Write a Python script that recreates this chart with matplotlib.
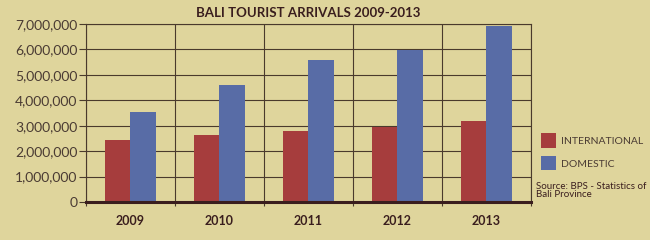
import numpy as np
import matplotlib
matplotlib.use('Agg')
import matplotlib.pyplot as plt
from matplotlib.ticker import FuncFormatter, MultipleLocator

years = ['2009', '2010', '2011', '2012', '2013']
international = [2440000, 2640000, 2800000, 2930000, 3180000]
domestic = [3520000, 4600000, 5590000, 5980000, 6940000]

bg = '#dfd59c'
red = '#a63d3d'
blue = '#586ca6'
grid_col = '#4a3a2c'
text_col = '#4a3b33'
dark = '#3a1e1e'

plt.rcParams['font.family'] = ['Lato', 'DejaVu Sans']

fig = plt.figure(figsize=(6.5, 2.4), dpi=100, facecolor=bg)
ax = fig.add_axes([0.1323, 0.1583, 0.6846, 0.7417], facecolor=bg)

x = np.arange(len(years))
w = 0.29
ax.bar(x - w / 2, international, w, color=red, label='INTERNATIONAL', zorder=3)
ax.bar(x + w / 2, domestic, w, color=blue, label='DOMESTIC', zorder=3)

ax.set_xlim(-0.5, len(years) - 0.5)
ax.set_ylim(0, 7000000)
ax.yaxis.set_major_locator(MultipleLocator(1000000))
ax.yaxis.set_major_formatter(FuncFormatter(lambda v, p: '{:,.0f}'.format(v)))
ax.set_xticks(x)
ax.set_xticklabels(years, fontsize=9, fontweight='bold', color=dark)
ax.set_xticks(np.arange(-0.5, len(years)), minor=True)

ax.grid(axis='y', color=grid_col, linewidth=0.8, zorder=1)
ax.grid(axis='x', which='minor', color=grid_col, linewidth=0.8, zorder=1)
ax.tick_params(axis='x', which='major', length=0, pad=9)
ax.tick_params(axis='x', which='minor', length=3, color=grid_col, width=0.8)
ax.tick_params(axis='y', length=5, color=grid_col, width=0.8, labelsize=10,
               labelcolor=text_col, pad=1)

for s in ['left', 'right', 'top']:
    ax.spines[s].set_color(grid_col)
    ax.spines[s].set_linewidth(0.8)
ax.spines['bottom'].set_color(dark)
ax.spines['bottom'].set_linewidth(2.2)
ax.spines['bottom'].set_zorder(4)

fig.text(0.474, 0.945, 'BALI TOURIST ARRIVALS 2009-2013', ha='center', va='center',
         fontsize=9.5, fontweight='bold', color=dark)

leg = ax.legend(loc='upper left', bbox_to_anchor=(0.833, 0.445),
                bbox_transform=fig.transFigure, frameon=False, fontsize=7.5,
                handlelength=1.4, handleheight=1.75, labelspacing=0.8,
                handletextpad=0.5, borderaxespad=0, borderpad=0)
for t in leg.get_texts():
    t.set_color(text_col)

fig.text(0.824, 0.205, 'Source: BPS - Statistics of\nBali Province', ha='left', va='center',
         fontsize=7, color=dark, linespacing=0.9)

fig.savefig('out.png', dpi=100, facecolor=bg)
